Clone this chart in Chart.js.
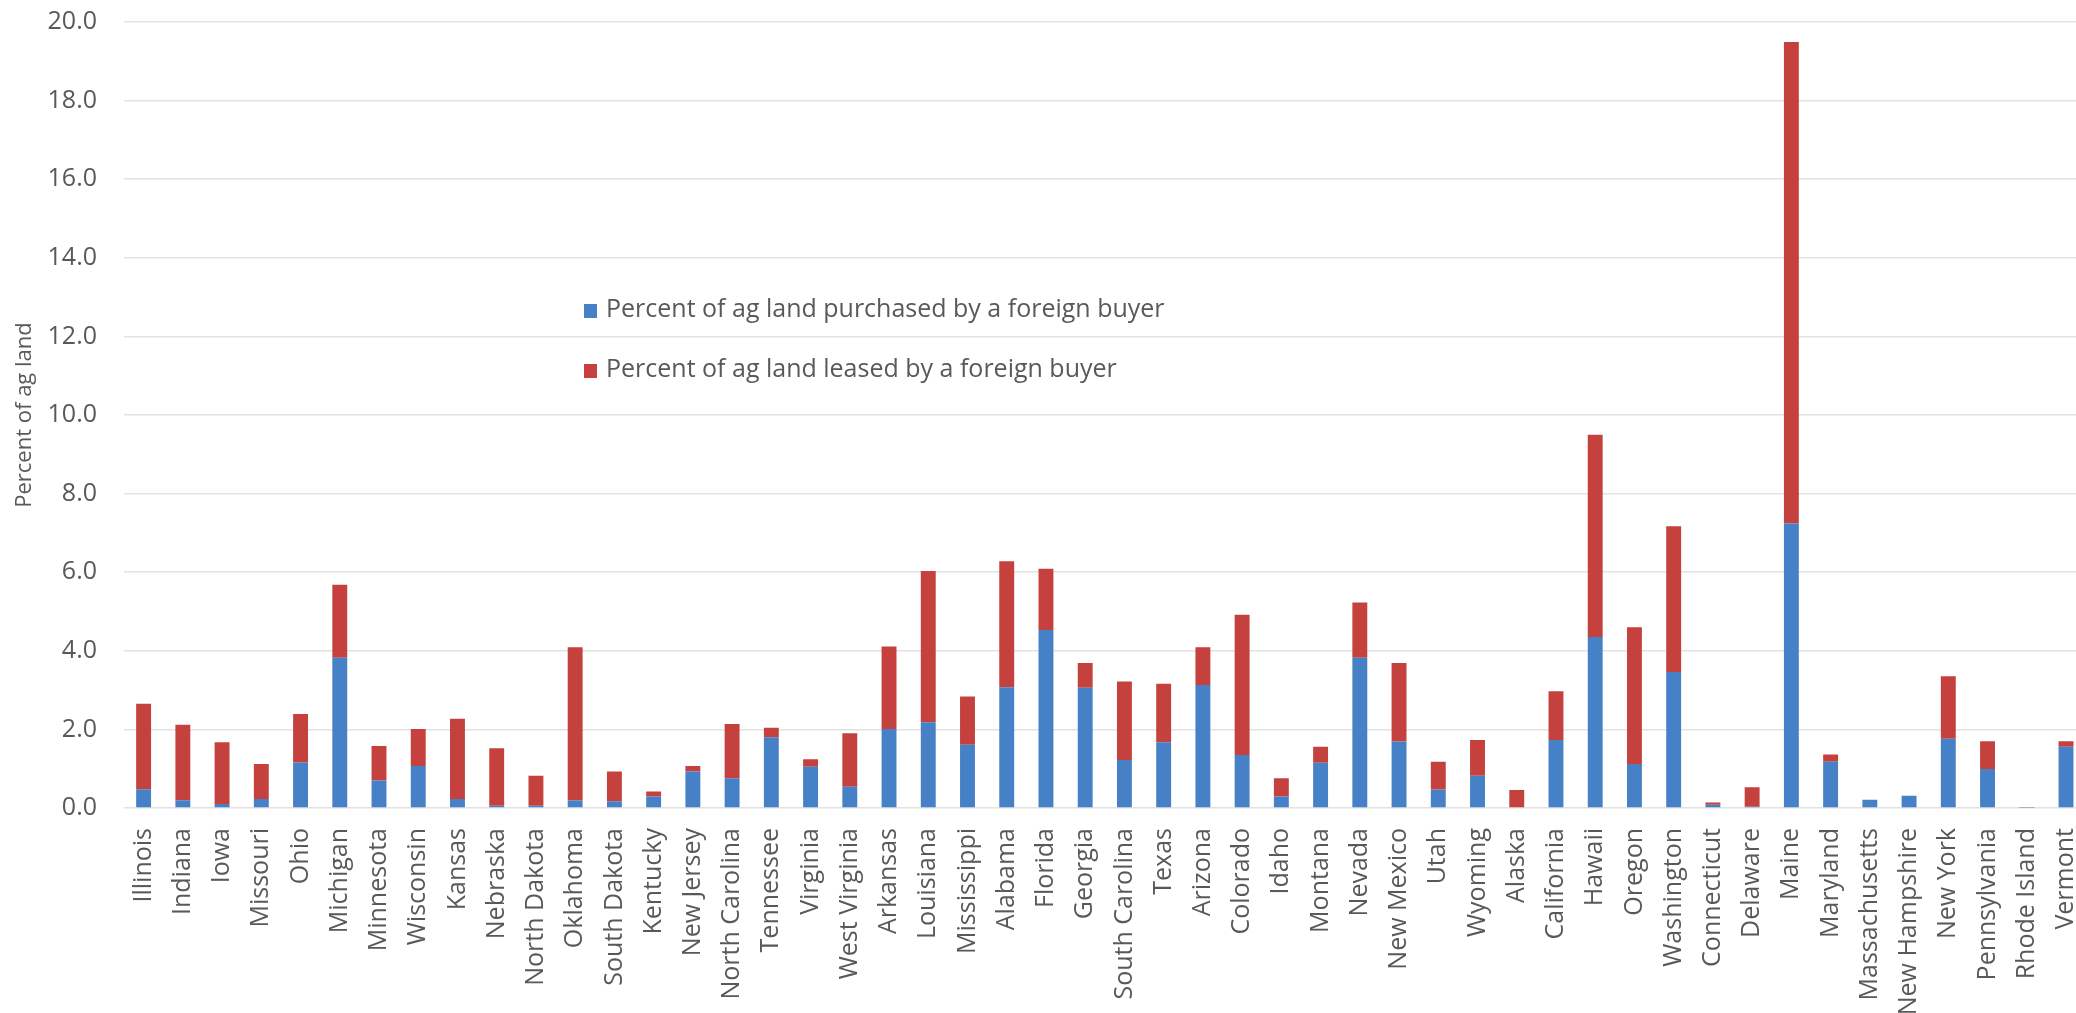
<!DOCTYPE html>
<html>
<head>
<meta charset="utf-8">
<script src="https://cdn.jsdelivr.net/npm/chart.js@4.4.1/dist/chart.umd.min.js"></script>
<style>
  html, body { margin: 0; padding: 0; background: #fff; overflow: hidden; }
  #wrap { position: relative; width: 2108px; height: 1013px; }
  #legend { position: absolute; left: 584px; top: 291px; font-family: "Open Sans", sans-serif; font-size: 25px; color: #595959; }
  #legend div { height: 60px; line-height: 32px; white-space: nowrap; }
  #legend span { display: inline-block; width: 13px; height: 14px; margin-right: 9px; vertical-align: -1px; }
</style>
</head>
<body>
<div id="wrap">
  <canvas id="myChart"></canvas>
  <div id="legend"></div>
</div>
<script>
const states = ['Illinois','Indiana','Iowa','Missouri','Ohio','Michigan','Minnesota','Wisconsin','Kansas','Nebraska',
  'North Dakota','Oklahoma','South Dakota','Kentucky','New Jersey','North Carolina','Tennessee','Virginia','West Virginia','Arkansas',
  'Louisiana','Mississippi','Alabama','Florida','Georgia','South Carolina','Texas','Arizona','Colorado','Idaho',
  'Montana','Nevada','New Mexico','Utah','Wyoming','Alaska','California','Hawaii','Oregon','Washington',
  'Connecticut','Delaware','Maine','Maryland','Massachusetts','New Hampshire','New York','Pennsylvania','Rhode Island','Vermont']

// percent of ag land purchased by a foreign buyer
const purchased = [0.48, 0.20, 0.10, 0.23, 1.16, 3.82, 0.70, 1.07, 0.23, 0.06,
  0.06, 0.19, 0.17, 0.29, 0.93, 0.76, 1.80, 1.05, 0.54, 2.01,
  2.18, 1.61, 3.07, 4.53, 3.06, 1.22, 1.67, 3.13, 1.35, 0.29,
  1.15, 3.82, 1.69, 0.47, 0.82, 0.00, 1.73, 4.35, 1.12, 3.46,
  0.08, 0.03, 7.24, 1.18, 0.21, 0.31, 1.76, 0.99, 0.01, 1.56]

// percent of ag land leased by a foreign buyer
const leased = [2.17, 1.92, 1.57, 0.89, 1.23, 1.86, 0.88, 0.94, 2.04, 1.46,
  0.76, 3.90, 0.76, 0.13, 0.14, 1.38, 0.24, 0.19, 1.36, 2.10,
  3.85, 1.23, 3.21, 1.56, 0.63, 2.00, 1.49, 0.96, 3.57, 0.47,
  0.41, 1.41, 2.00, 0.71, 0.91, 0.46, 1.24, 5.15, 3.48, 3.71,
  0.06, 0.50, 12.25, 0.18, 0.00, 0.00, 1.59, 0.71, 0.01, 0.14]

const seriesNames = ['Percent of ag land purchased by a foreign buyer', 'Percent of ag land leased by a foreign buyer']
const seriesColors = ['#4680c6', '#c4413e']
const yMax = 20
const yStep = 2

const textColor = '#595959'
const fontFamily = '"Open Sans", sans-serif'

const ctx = document.getElementById('myChart')
const chart = new Chart(ctx, {
  type: 'bar',
  data: {
    labels: states,
    datasets: [
      { label: seriesNames[0], data: purchased, backgroundColor: seriesColors[0] },
      { label: seriesNames[1], data: leased, backgroundColor: seriesColors[1] }
    ]
  },
  options: {
    responsive: true,
    maintainAspectRatio: false,
    animation: false,
    barPercentage: 0.38,
    categoryPercentage: 1.0,
    layout: { padding: { top: 22, right: 0, bottom: 0, left: 0 } },
    plugins: {
      legend: { display: false },
      tooltip: { enabled: false }
    },
    scales: {
      x: {
        stacked: true,
        grid: { display: false },
        border: { display: false },
        ticks: {
          color: textColor,
          font: { family: fontFamily, size: 25 },
          maxRotation: 90,
          minRotation: 90,
          autoSkip: false,
          padding: 12
        },
        afterFit: (scale) => { scale.height = 205 }
      },
      y: {
        stacked: true,
        min: 0,
        max: yMax,
        grid: { color: '#e2e2e2', lineWidth: 1.5, drawTicks: false },
        border: { display: false },
        ticks: {
          stepSize: yStep,
          color: textColor,
          font: { family: fontFamily, size: 25 },
          padding: 27,
          callback: (v) => v.toFixed(1)
        },
        title: {
          display: true,
          text: 'Percent of ag land',
          color: textColor,
          font: { family: fontFamily, size: 22 },
          padding: { top: 12, bottom: 0 }
        },
        afterFit: (scale) => {
          scale.width = 124
          scale.paddingTop = 0
          scale.paddingBottom = 0
        }
      }
    }
  }
})

// legend drawn inside the plot, like the original
const legendBox = document.getElementById('legend')
chart.data.datasets.forEach((ds) => {
  const row = document.createElement('div')
  const sw = document.createElement('span')
  sw.style.background = ds.backgroundColor
  row.appendChild(sw)
  row.appendChild(document.createTextNode(ds.label))
  legendBox.appendChild(row)
})
</script>
</body>
</html>
